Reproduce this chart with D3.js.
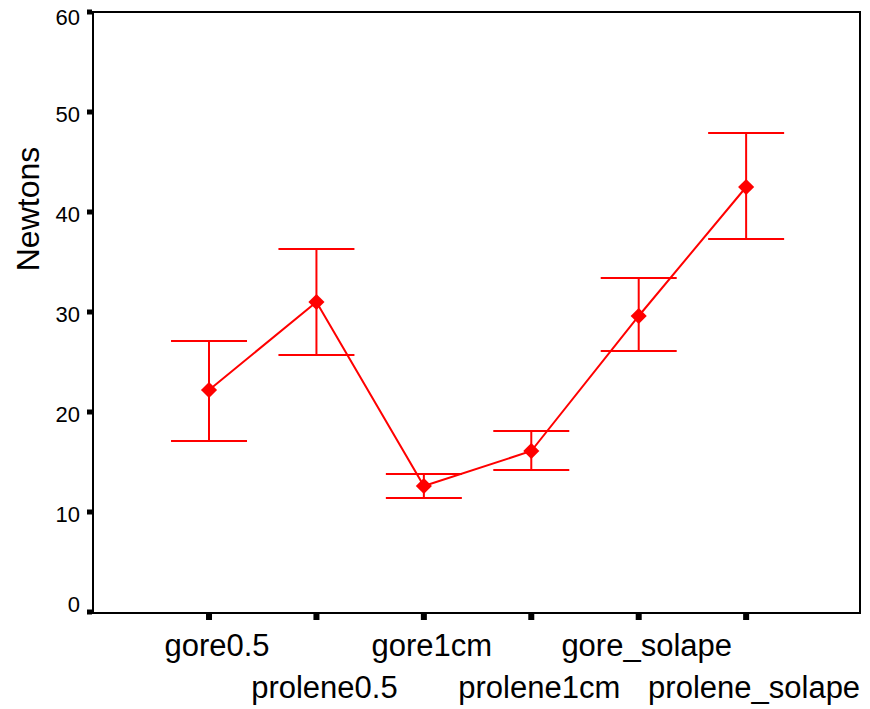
<!DOCTYPE html>
<html lang="en">
	<head>
		<meta charset="UTF-8">
		<title>Newtons</title>
		<script src="https://cdnjs.cloudflare.com/ajax/libs/d3/7.8.5/d3.min.js"></script>
		<style>
			body { margin: 0; background: #fff; }
			text { font-family: "Liberation Sans", Arial, sans-serif; fill: #000; }
		</style>
		<script>
var categories = ["gore0.5", "prolene0.5", "gore1cm", "prolene1cm", "gore_solape", "prolene_solape"];
var means = [22.2, 31.0, 12.6, 16.1, 29.6, 42.5];
var upper = [27.1, 36.3, 13.8, 18.1, 33.4, 47.9];
var lower = [17.1, 25.7, 11.4, 14.2, 26.1, 37.3];
var yTicks = [0, 10, 20, 30, 40, 50, 60];
var yTitle = "Newtons";

function makeChart() {
	var svg = d3.select("svg");

	var left = 93, right = 860, top = 12, bottom = 612;
	var red = "#ff0000";

	// categories sit on a linear index scale so the outer gaps match the frame
	var scX = d3.scaleLinear().domain([-1.08, 6.06]).range([left, right]);
	var scY = d3.scaleLinear().domain([0, 60]).range([bottom, top]);

	var data = categories.map((c, i) => ({ name: c, i: i, mean: means[i], hi: upper[i], lo: lower[i] }));

	// frame
	svg.append("rect")
		.attr("x", left).attr("y", top)
		.attr("width", right - left).attr("height", bottom - top + 1)
		.attr("fill", "none").attr("stroke", "#000").attr("stroke-width", 2);

	// y ticks: small squares outside the axis
	var gy = svg.append("g");
	gy.selectAll("rect").data(yTicks).enter()
		.append("rect")
		.attr("x", left - 6).attr("y", d => scY(d) - 2.5)
		.attr("width", 5).attr("height", 5)
		.attr("fill", "#000");
	gy.selectAll("text").data(yTicks).enter()
		.append("text")
		.attr("x", 80)
		.attr("y", d => Math.max(top + 13, Math.min(bottom, scY(d) + 9.5)))
		.attr("text-anchor", "end")
		.attr("font-size", 22)
		.text(d => d);

	// x ticks
	var gx = svg.append("g");
	gx.selectAll("rect").data(data).enter()
		.append("rect")
		.attr("x", d => scX(d.i) - 3).attr("y", bottom + 2)
		.attr("width", 6).attr("height", 6)
		.attr("fill", "#000");
	gx.selectAll("text").data(data).enter()
		.append("text")
		.attr("x", d => scX(d.i) + 8)
		.attr("y", d => d.i % 2 == 0 ? 656 : 698)
		.attr("text-anchor", "middle")
		.attr("font-size", 31)
		.text(d => d.name);

	svg.append("text")
		.attr("transform", `translate(39,209) rotate(-90)`)
		.attr("text-anchor", "middle")
		.attr("font-size", 32)
		.text(yTitle);

	// error bars
	var ge = svg.append("g").attr("stroke", red).attr("stroke-width", 2).attr("fill", "none");
	ge.selectAll("line.v").data(data).enter()
		.append("line").attr("class", "v")
		.attr("x1", d => scX(d.i)).attr("x2", d => scX(d.i))
		.attr("y1", d => scY(d.hi)).attr("y2", d => scY(d.lo));
	ge.selectAll("line.hi").data(data).enter()
		.append("line").attr("class", "hi")
		.attr("x1", d => scX(d.i) - 38).attr("x2", d => scX(d.i) + 38)
		.attr("y1", d => scY(d.hi)).attr("y2", d => scY(d.hi));
	ge.selectAll("line.lo").data(data).enter()
		.append("line").attr("class", "lo")
		.attr("x1", d => scX(d.i) - 38).attr("x2", d => scX(d.i) + 38)
		.attr("y1", d => scY(d.lo)).attr("y2", d => scY(d.lo));

	// mean line
	var lnMkr = d3.line().x(d => scX(d.i)).y(d => scY(d.mean));
	svg.append("path").attr("d", lnMkr(data))
		.attr("fill", "none").attr("stroke", red).attr("stroke-width", 2);

	// diamonds
	var sym = d3.symbol().type(d3.symbolSquare).size(130);
	svg.append("g").selectAll("path").data(data).enter()
		.append("path")
		.attr("d", sym)
		.attr("transform", d => `translate(${scX(d.i)},${scY(d.mean)}) rotate(45)`)
		.attr("fill", red);
}
		</script>
	</head>
	<body onload="makeChart()">
		<svg width="870" height="709"></svg>
	</body>
</html>
